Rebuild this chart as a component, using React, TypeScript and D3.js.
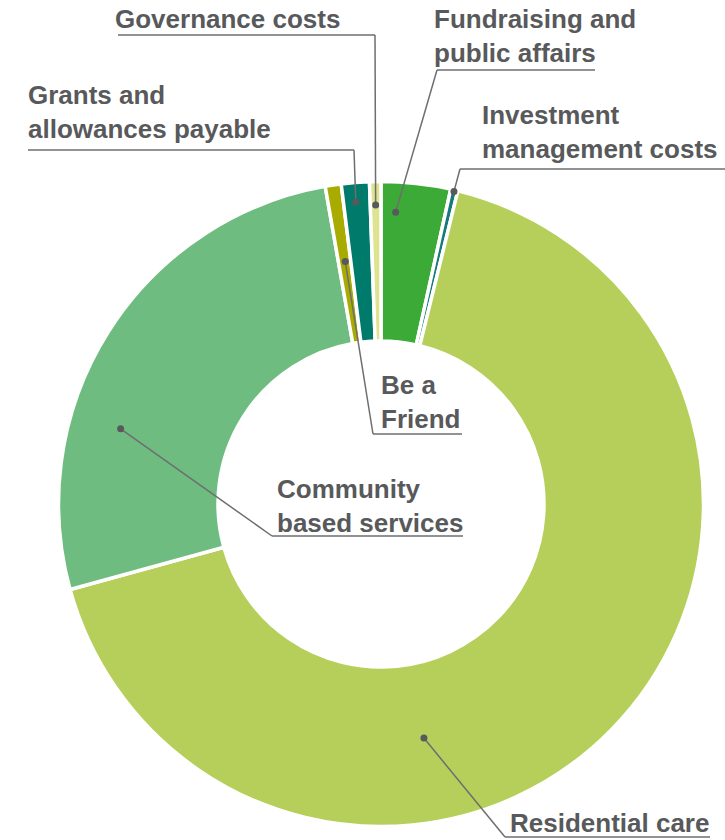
import React from "react";
import * as d3 from "d3";

const categories = [
  "Fundraising and public affairs",
  "Investment management costs",
  "Residential care",
  "Community based services",
  "Be a Friend",
  "Grants and allowances payable",
  "Governance costs",
];
const values = [3.47, 0.36, 66.9, 26.5, 0.8, 1.4, 0.57];
const colors = ["#3caa36", "#177a78", "#b5cf5a", "#6fbc80", "#a8ac00", "#007b6b", "#dde38f"];

// label layout (text lines, text x, baselines, underline, leader anchor)
const labelLayout = [
  { i: 6, lines: ["Governance costs"], x: 115, y: 28, ux0: 118, ux1: 375, uy: 35, ex: 375, t: 0.5, r: 299 },
  { i: 0, lines: ["Fundraising and", "public affairs"], x: 434, y: 28, ux0: 437, ux1: 595, uy: 70, ex: 437, t: 0.23, r: 292 },
  { i: 5, lines: ["Grants and", "allowances payable"], x: 28, y: 104, ux0: 28, ux1: 354, uy: 150, ex: 354, t: 0.46, r: 303 },
  { i: 1, lines: ["Investment", "management costs"], x: 482, y: 124, ux0: 460, ux1: 725, uy: 169, ex: 460, t: 0.5, r: 321 },
  { i: 4, lines: ["Be a", "Friend"], x: 381, y: 394, ux0: 373, ux1: 462, uy: 434, ex: 373, t: 0.55, r: 245 },
  { i: 3, lines: ["Community", "based services"], x: 277, y: 498, ux0: 272, ux1: 463, uy: 536, ex: 272, t: 0.33, r: 271 },
  { i: 2, lines: ["Residential care"], x: 510, y: 832, ux0: 505, ux1: 710, uy: 837, ex: 505, t: 0.647, r: 238 },
];

const W = 725;
const H = 840;
const cx = 381;
const cy = 504;

export default function App() {
  const pie = d3
    .pie<number>()
    .sort(null)
    .value((d) => d)
    .startAngle(0)
    .endAngle(2 * Math.PI);
  const arcs = pie(values);
  const arc = d3.arc<d3.PieArcDatum<number>>().innerRadius(163).outerRadius(322.5);

  const pt = (a: number, r: number) => [cx + r * Math.sin(a), cy - r * Math.cos(a)];

  return (
    <svg
      width={W}
      height={H}
      style={{ position: "absolute", left: 0, top: 0, background: "#fff" }}
      fontFamily="'Liberation Sans', Arial, sans-serif"
    >
      <g transform={`translate(${cx},${cy})`}>
        {arcs.map((a, k) => (
          <path key={k} d={arc(a) || ""} fill={colors[k]} stroke="#fff" strokeWidth={3.5} strokeLinejoin="miter" />
        ))}
      </g>
      {labelLayout.map((L, k) => {
        const a = arcs[L.i];
        const ang = a.startAngle + (a.endAngle - a.startAngle) * L.t;
        const [dx, dy] = pt(ang, L.r);
        return (
          <g key={k}>
            <polyline
              points={`${dx},${dy} ${L.ex},${L.uy}`}
              fill="none"
              stroke="#6d6e70"
              strokeWidth={1.5}
            />
            <line x1={L.ux0} x2={L.ux1} y1={L.uy} y2={L.uy} stroke="#6d6e70" strokeWidth={1.5} />
            <circle cx={dx} cy={dy} r={3.5} fill="#58595b" />
            {L.lines.map((s, j) => (
              <text key={j} x={L.x} y={L.y + j * 34} fontSize={26} fontWeight={700} fill="#58595b">
                {s}
              </text>
            ))}
          </g>
        );
      })}
    </svg>
  );
}
